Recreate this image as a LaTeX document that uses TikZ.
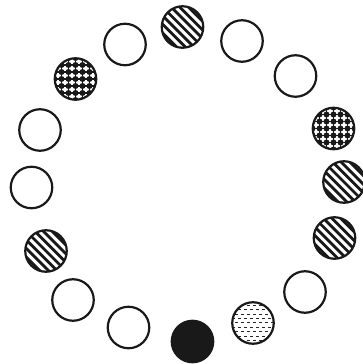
\documentclass[tikz,border=0pt]{standalone}
\usetikzlibrary{calc}
\tikzset{
  ball/.style={circle, draw=black!90, line width=2.2pt, minimum size=41.5pt, inner sep=0pt},
  hatch/.style={path picture={
    \begin{scope}[shift={(path picture bounding box.center)}]
      \foreach \k in {-9,...,9}
        \draw[line width=2.8pt, black!90] ({-30pt+\k*4.3pt},{30pt+\k*4.3pt}) -- ({30pt+\k*4.3pt},{-30pt+\k*4.3pt});
    \end{scope}}},
  checker/.style={path picture={
    \begin{scope}[shift={(path picture bounding box.center)}]
      \foreach \k in {-4,...,4} {
        \draw[line width=1.8pt, black!90] (-30pt,{\k*7pt}) -- (30pt,{\k*7pt});
        \draw[line width=1.8pt, black!90] ({\k*7pt},-30pt) -- ({\k*7pt},30pt);
      }
      \foreach \i in {-4,...,4} \foreach \j in {-4,...,4}
        \fill[black!90] ({\i*7pt},{\j*7pt}) circle (3pt);
    \end{scope}}},
  dashfill/.style={path picture={
    \begin{scope}[shift={(path picture bounding box.center)}]
      \foreach \j in {-6,...,6} {
        \pgfmathsetmacro{\off}{mod(abs(\j),2)*3}
        \draw[line width=1pt, black!85, dash pattern=on 3.2pt off 2.8pt, dash phase=\off pt] (-30pt,{\j*4.4pt}) -- (30pt,{\j*4.4pt});
      }
    \end{scope}}},
  solid ball/.style={fill=black!90}
}
\begin{document}
\begin{tikzpicture}
\useasboundingbox (0,0) rectangle (362pt,364pt);
\node[ball, hatch]   (c1)  at (182.5pt,337pt) {};
\node[ball]          (c2)  at (242pt,323pt) {};
\node[ball]          (c3)  at (295.5pt,288pt) {};
\node[ball, checker] (c4)  at (333.5pt,235.5pt) {};
\node[ball, hatch]   (c5)  at (344pt,182pt) {};
\node[ball, hatch]   (c6)  at (334.5pt,126pt) {};
\node[ball]          (c7)  at (305pt,72pt) {};
\node[ball, dashfill] (c8) at (253pt,41pt) {};
\node[ball, solid ball] (c9) at (192.5pt,22.5pt) {};
\node[ball]          (c10) at (128.5pt,36.5pt) {};
\node[ball]          (c11) at (73pt,64pt) {};
\node[ball, hatch]   (c12) at (46pt,113pt) {};
\node[ball]          (c13) at (31.5pt,176.5pt) {};
\node[ball]          (c14) at (40pt,234pt) {};
\node[ball, checker] (c15) at (75.5pt,285pt) {};
\node[ball]          (c16) at (125pt,319.5pt) {};
\end{tikzpicture}
\end{document}
